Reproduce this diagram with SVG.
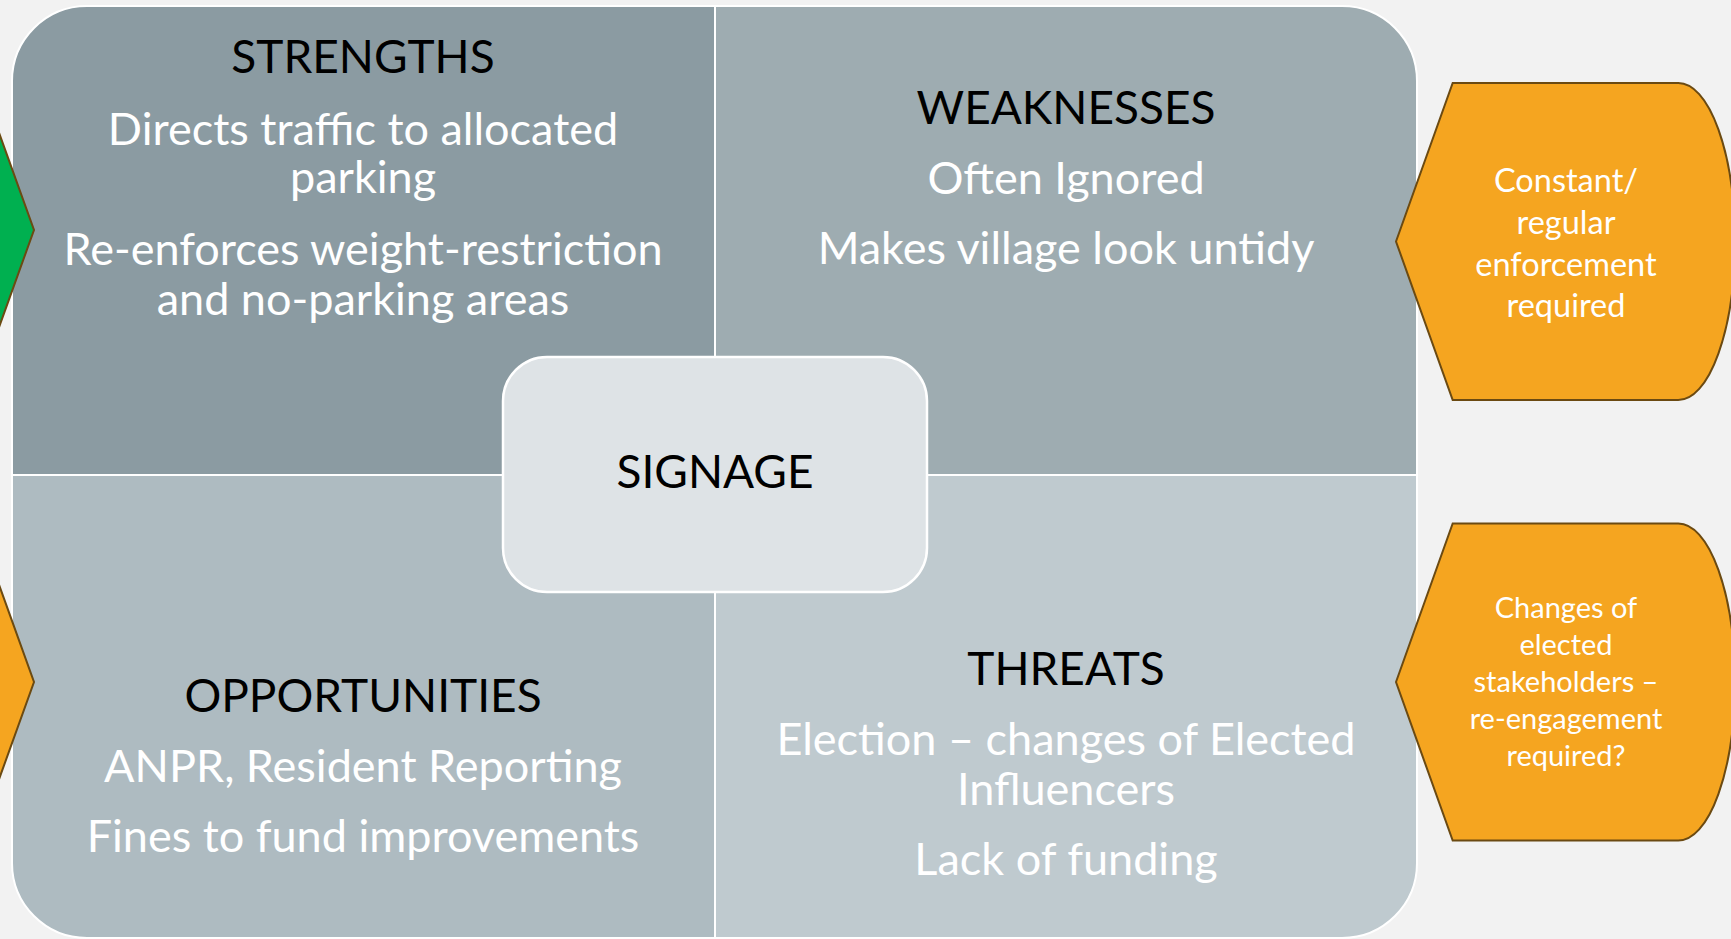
<svg xmlns="http://www.w3.org/2000/svg" width="1731" height="939" viewBox="0 0 1731 939">
<style>
.h{font-family:Lato,"Open Sans","Liberation Sans",sans-serif;font-size:46px;fill:#000;text-anchor:middle}
.b{font-family:Lato,"Open Sans","Liberation Sans",sans-serif;font-size:45px;fill:#fff;text-anchor:middle}
.s{font-family:Lato,"Open Sans","Liberation Sans",sans-serif;fill:#fff;text-anchor:middle}
.tag{stroke:#6b4a12;stroke-width:2}
</style>
<defs>
<clipPath id="outer"><rect x="12" y="6" width="1405" height="932" rx="75" ry="75"/></clipPath>
</defs>
<rect width="1731" height="939" fill="#f2f2f2"/>
<g id="swot" clip-path="url(#outer)">
<rect id="strengths-bg" x="12" y="6" width="703" height="469" fill="#8b9ba2"/>
<rect id="weaknesses-bg" x="715" y="6" width="702" height="469" fill="#9eacb1"/>
<rect id="opportunities-bg" x="12" y="475" width="703" height="463" fill="#aebbc1"/>
<rect id="threats-bg" x="715" y="475" width="702" height="463" fill="#bfcacf"/>
<line x1="715" y1="0" x2="715" y2="939" stroke="#fff" stroke-width="2"/>
<line x1="0" y1="475" x2="1731" y2="475" stroke="#fff" stroke-width="2"/>
</g>
<rect x="12" y="6" width="1405" height="932" rx="75" ry="75" fill="none" stroke="#fff" stroke-width="2"/>
<g id="left-tags">
<path class="tag" d="M-23,71.5 L34,230 L-23,388.5 Z" fill="#00b050"/>
<path class="tag" d="M-23,523.5 L34,682 L-23,840.5 Z" fill="#f5a520"/>
</g>
<g id="strengths">
<text class="h" x="363" y="73">STRENGTHS</text>
<text class="b" x="363" y="145">Directs traffic to allocated</text>
<text class="b" x="363" y="193">parking</text>
<text class="b" x="363" y="265">Re-enforces weight-restriction</text>
<text class="b" x="363" y="315">and no-parking areas</text>
</g>
<g id="weaknesses">
<text class="h" x="1066" y="124">WEAKNESSES</text>
<text class="b" x="1066" y="194">Often Ignored</text>
<text class="b" x="1066" y="264">Makes village look untidy</text>
</g>
<g id="opportunities">
<text class="h" x="363" y="712">OPPORTUNITIES</text>
<text class="b" x="363" y="782">ANPR, Resident Reporting</text>
<text class="b" x="363" y="852">Fines to fund improvements</text>
</g>
<g id="threats">
<text class="h" x="1066" y="685">THREATS</text>
<text class="b" x="1066" y="755">Election – changes of Elected</text>
<text class="b" x="1066" y="805">Influencers</text>
<text class="b" x="1066" y="875">Lack of funding</text>
</g>
<g id="signage">
<rect x="503" y="357" width="424" height="235" rx="44" ry="44" fill="#dee3e6" stroke="#fff" stroke-width="2.5"/>
<text class="h" x="715" y="488">SIGNAGE</text>
</g>
<g id="tag-weakness">
<path class="tag" d="M1396,241.5 L1452.7,83 L1678.3,83 A56.7,158.5 0 0 1 1678.3,400 L1452.7,400 Z" fill="#f5a520"/>
<text class="s" x="1566" y="192" font-size="32.5">Constant/</text>
<text class="s" x="1566" y="234" font-size="32.5">regular</text>
<text class="s" x="1566" y="276" font-size="32.5">enforcement</text>
<text class="s" x="1566" y="317" font-size="32.5">required</text>
</g>
<g id="tag-threat">
<path class="tag" d="M1396,682 L1452.7,523.5 L1678.3,523.5 A56.7,158.5 0 0 1 1678.3,840.5 L1452.7,840.5 Z" fill="#f5a520"/>
<text class="s" x="1566" y="618" font-size="29">Changes of</text>
<text class="s" x="1566" y="655" font-size="29">elected</text>
<text class="s" x="1566" y="692" font-size="29">stakeholders –</text>
<text class="s" x="1566" y="729" font-size="29">re-engagement</text>
<text class="s" x="1566" y="766" font-size="29">required?</text>
</g>
<g id="connectors"></g>
</svg>
